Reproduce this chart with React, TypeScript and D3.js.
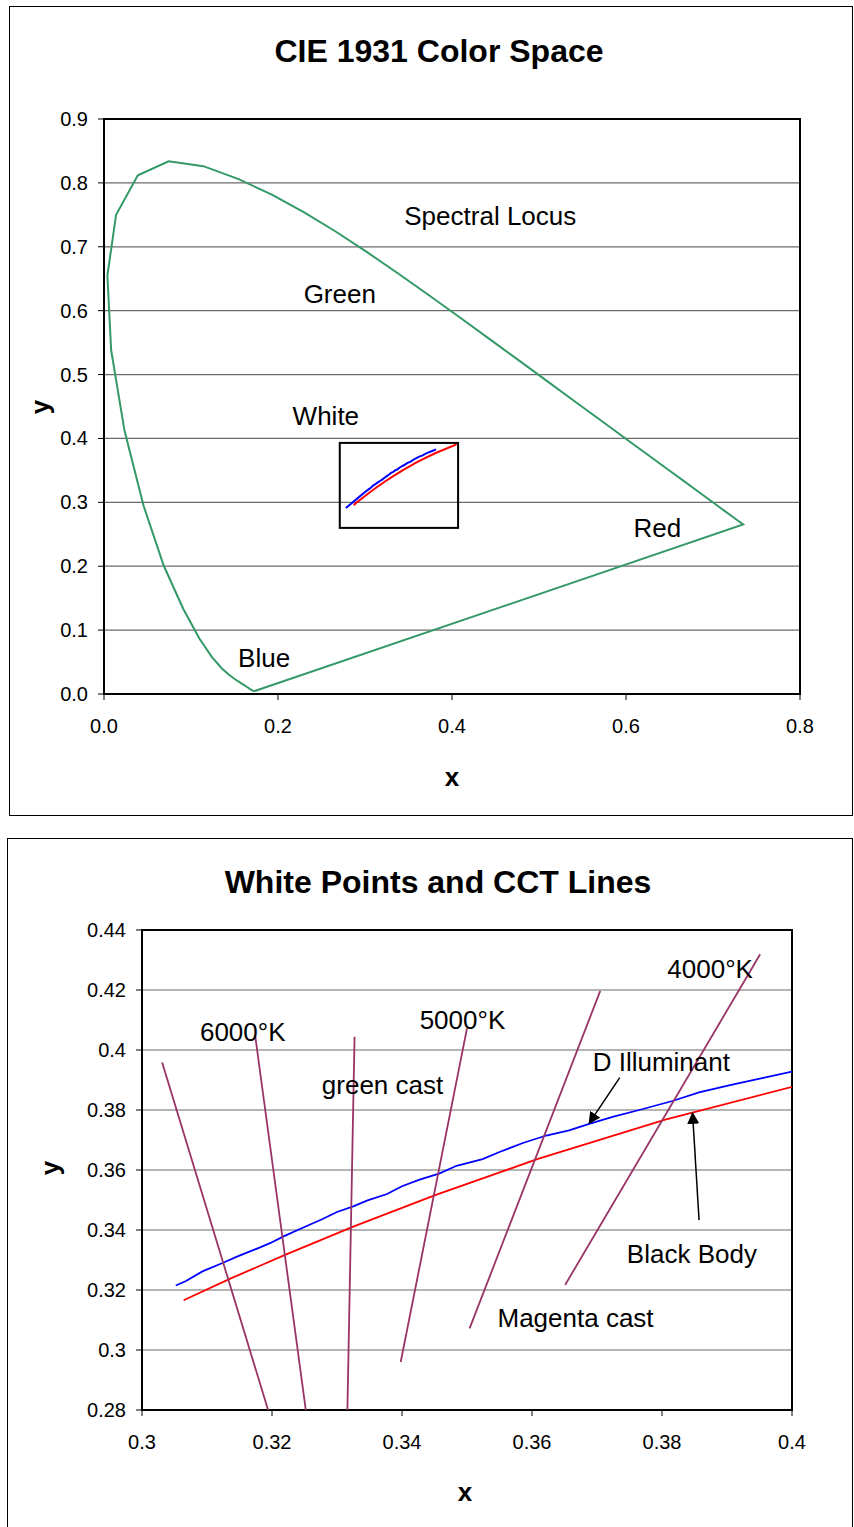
import React from "react";
import * as d3 from "d3";

// CIE 1931 spectral locus (380nm .. 700nm)
const locusX = [0.1741, 0.1738, 0.1733, 0.1726, 0.1714, 0.1689, 0.1644, 0.1611, 0.1566, 0.1510, 0.1440, 0.1355, 0.1241, 0.1096, 0.0913, 0.0687, 0.0454, 0.0235, 0.0082, 0.0039, 0.0139, 0.0389, 0.0743, 0.1142, 0.1547, 0.1929, 0.2296, 0.2658, 0.3016, 0.3373, 0.3731, 0.4087, 0.4441, 0.4788, 0.5125, 0.5448, 0.5752, 0.6029, 0.6270, 0.6482, 0.6658, 0.6801, 0.6915, 0.7006, 0.7079, 0.7140, 0.7190, 0.7230, 0.7260, 0.7300, 0.7347];
const locusY = [0.0050, 0.0049, 0.0048, 0.0048, 0.0051, 0.0069, 0.0109, 0.0138, 0.0177, 0.0227, 0.0297, 0.0399, 0.0578, 0.0868, 0.1327, 0.2007, 0.2950, 0.4127, 0.5384, 0.6548, 0.7502, 0.8120, 0.8338, 0.8262, 0.8059, 0.7816, 0.7543, 0.7243, 0.6923, 0.6589, 0.6245, 0.5896, 0.5547, 0.5202, 0.4866, 0.4544, 0.4242, 0.3965, 0.3725, 0.3514, 0.3340, 0.3197, 0.3083, 0.2993, 0.2920, 0.2859, 0.2809, 0.2770, 0.2740, 0.2700, 0.2653];

// D illuminant (daylight) locus
const dIllumX = [0.2780, 0.2850, 0.2920, 0.2990, 0.3052, 0.3067, 0.3093, 0.3124, 0.3147, 0.3177, 0.3197, 0.3217, 0.3250, 0.3277, 0.3300, 0.3324, 0.3347, 0.3377, 0.3400, 0.3427, 0.3457, 0.3484, 0.3524, 0.3550, 0.3586, 0.3622, 0.3657, 0.3688, 0.3724, 0.3765, 0.3816, 0.3857, 0.3903, 0.3954, 0.4000, 0.4030];
const dIllumY = [0.2910, 0.2990, 0.3070, 0.3150, 0.3215, 0.3229, 0.3262, 0.3290, 0.3312, 0.3338, 0.3356, 0.3378, 0.3410, 0.3436, 0.3460, 0.3478, 0.3499, 0.3520, 0.3546, 0.3568, 0.3588, 0.3614, 0.3636, 0.3660, 0.3690, 0.3715, 0.3732, 0.3754, 0.3777, 0.3800, 0.3830, 0.3859, 0.3882, 0.3906, 0.3928, 0.3940];

// black body (Planckian) locus, 9000K .. 3500K
const bbKelvin = [9000, 8500, 8000, 7500, 7000, 6500, 6000, 5500, 5000, 4500, 4000, 3500];
const bbX = [0.2869, 0.2908, 0.2952, 0.3004, 0.3064, 0.3135, 0.3221, 0.3325, 0.3451, 0.3608, 0.3805, 0.4053];
const bbY = [0.2956, 0.3000, 0.3048, 0.3103, 0.3166, 0.3237, 0.3318, 0.3411, 0.3516, 0.3636, 0.3768, 0.3907];

// iso-CCT lines: [x1, y1, x2, y2]
const cctLines = [
  [0.3031, 0.3958, 0.3194, 0.28],
  [0.3174, 0.4050, 0.3252, 0.28],
  [0.3327, 0.4044, 0.3316, 0.28],
  [0.3500, 0.4072, 0.3398, 0.2960],
  [0.3705, 0.4197, 0.3504, 0.3072],
  [0.3951, 0.4319, 0.3651, 0.3217],
];

// zoom window drawn on the top chart
const whiteBox = [0.271, 0.26, 0.407, 0.393];

const topTicksX = [0, 0.2, 0.4, 0.6, 0.8];
const topTicksY = [0, 0.1, 0.2, 0.3, 0.4, 0.5, 0.6, 0.7, 0.8, 0.9];
const botTicksX = [0.3, 0.32, 0.34, 0.36, 0.38, 0.4];
const botTicksY = [0.28, 0.3, 0.32, 0.34, 0.36, 0.38, 0.4, 0.42, 0.44];

const topLabels = [
  { text: "Spectral Locus", x: 0.444, y: 0.748 },
  { text: "Green", x: 0.271, y: 0.626 },
  { text: "White", x: 0.255, y: 0.435 },
  { text: "Red", x: 0.636, y: 0.26 },
  { text: "Blue", x: 0.184, y: 0.056 },
];
const botLabels = [
  { text: "6000°K", x: 0.3155, y: 0.406 },
  { text: "green cast", x: 0.337, y: 0.3883 },
  { text: "5000°K", x: 0.3493, y: 0.41 },
  { text: "4000°K", x: 0.3874, y: 0.427 },
  { text: "D Illuminant", x: 0.3799, y: 0.396 },
  { text: "Black Body", x: 0.3846, y: 0.332 },
  { text: "Magenta cast", x: 0.3667, y: 0.3107 },
];
const arrows = [
  [0.3735, 0.3908, 0.3688, 0.3756],
  [0.3857, 0.3433, 0.3847, 0.379],
];

const FONT = "'Liberation Sans', Arial, Helvetica, sans-serif";
const GREEN = "#339966";
const PLUM = "#993366";
const GRID = "#6b6b6b";

type Pt = [number, number];
const zip = (xs: number[], ys: number[]): Pt[] => xs.map((x, i) => [x, ys[i]]);

function Axes({ x, y, ticksX, ticksY, fmt }: any) {
  const [x0, x1] = x.range();
  const [y0, y1] = y.range(); // y0 bottom, y1 top
  return (
    <g>
      {ticksY.map((t: number) => (
        <g key={"gy" + t}>
          <line x1={x0} x2={x1} y1={y(t)} y2={y(t)} stroke={GRID} strokeWidth={1.2} />
          <line x1={x0 - 6} x2={x0} y1={y(t)} y2={y(t)} stroke="#000" strokeWidth={1} />
          <text x={x0 - 16} y={y(t)} textAnchor="end" dominantBaseline="central" fontSize={20}>
            {fmt(t)}
          </text>
        </g>
      ))}
      {ticksX.map((t: number) => (
        <g key={"gx" + t}>
          <line x1={x(t)} x2={x(t)} y1={y0} y2={y0 + 6} stroke="#000" strokeWidth={1} />
          <text x={x(t)} y={y0 + 32} textAnchor="middle" dominantBaseline="central" fontSize={20}>
            {fmt(t)}
          </text>
        </g>
      ))}
      <rect x={x0} y={y1} width={x1 - x0} height={y0 - y1} fill="none" stroke="#000" strokeWidth={2} />
    </g>
  );
}

export default function App() {
  const xT = d3.scaleLinear().domain([0, 0.8]).range([104, 800]);
  const yT = d3.scaleLinear().domain([0, 0.9]).range([694, 119]);
  const xB = d3.scaleLinear().domain([0.3, 0.4]).range([142, 792]);
  const yB = d3.scaleLinear().domain([0.28, 0.44]).range([1410, 930]);

  const lineT = d3.line<Pt>().x((d) => xT(d[0])).y((d) => yT(d[1]));
  const lineB = d3.line<Pt>().x((d) => xB(d[0])).y((d) => yB(d[1]));

  const locus = zip(locusX, locusY);
  const dIllum = zip(dIllumX, dIllumY);
  const blackBody = zip(bbX, bbY);

  const fmt1 = (v: number) => d3.format(".1f")(v);
  const fmt2 = (v: number) => String(+v.toFixed(2));

  return (
    <svg
      width={854}
      height={1527}
      style={{ position: "absolute", left: 0, top: 0, fontFamily: FONT }}
    >
      <defs>
        <clipPath id="clipB">
          <rect x={142} y={930} width={650} height={480} />
        </clipPath>
        <marker id="arrow" viewBox="0 0 10 10" refX={9} refY={5} markerWidth={12} markerHeight={12} orient="auto" markerUnits="userSpaceOnUse">
          <path d="M0,0 L10,5 L0,10 z" fill="#000" />
        </marker>
      </defs>
      <rect x={0} y={0} width={854} height={1527} fill="#fff" />

      {/* ---- top chart ---- */}
      <rect x={9.5} y={6.5} width={843} height={809} fill="none" stroke="#000" strokeWidth={1} />
      <text x={439} y={51} textAnchor="middle" dominantBaseline="central" fontSize={32} fontWeight="bold">
        CIE 1931 Color Space
      </text>
      <Axes x={xT} y={yT} ticksX={topTicksX} ticksY={topTicksY} fmt={fmt1} />
      <path d={lineT([...locus, locus[0]]) || ""} fill="none" stroke={GREEN} strokeWidth={2} />
      <rect
        x={xT(whiteBox[0])}
        y={yT(whiteBox[3])}
        width={xT(whiteBox[2]) - xT(whiteBox[0])}
        height={yT(whiteBox[1]) - yT(whiteBox[3])}
        fill="none"
        stroke="#000"
        strokeWidth={2}
      />
      <path d={lineT(blackBody) || ""} fill="none" stroke="#ff0000" strokeWidth={2} />
      <path d={lineT(dIllum.filter((d) => d[0] <= 0.385)) || ""} fill="none" stroke="#0000ff" strokeWidth={2} />
      {topLabels.map((l) => (
        <text key={l.text} x={xT(l.x)} y={yT(l.y)} textAnchor="middle" dominantBaseline="central" fontSize={26}>
          {l.text}
        </text>
      ))}
      <text x={40} y={407} transform="rotate(-90 40 407)" textAnchor="middle" dominantBaseline="central" fontSize={26} fontWeight="bold">
        y
      </text>
      <text x={452} y={777} textAnchor="middle" dominantBaseline="central" fontSize={26} fontWeight="bold">
        x
      </text>

      {/* ---- bottom chart ---- */}
      <rect x={7.5} y={838.5} width={845} height={700} fill="none" stroke="#000" strokeWidth={1} />
      <text x={438} y={882} textAnchor="middle" dominantBaseline="central" fontSize={32} fontWeight="bold">
        White Points and CCT Lines
      </text>
      <Axes x={xB} y={yB} ticksX={botTicksX} ticksY={botTicksY} fmt={fmt2} />
      <g clipPath="url(#clipB)">
        <path d={lineB(dIllum.filter((d) => d[0] >= 0.305)) || ""} fill="none" stroke="#0000ff" strokeWidth={1.8} />
        <path d={lineB(blackBody.filter((_, i) => bbKelvin[i] <= 7000)) || ""} fill="none" stroke="#ff0000" strokeWidth={1.8} />
        {cctLines.map((c, i) => (
          <line key={i} x1={xB(c[0])} y1={yB(c[1])} x2={xB(c[2])} y2={yB(c[3])} stroke={PLUM} strokeWidth={1.8} />
        ))}
      </g>
      {botLabels.map((l) => (
        <text key={l.text} x={xB(l.x)} y={yB(l.y)} textAnchor="middle" dominantBaseline="central" fontSize={26}>
          {l.text}
        </text>
      ))}
      {arrows.map((a, i) => (
        <line key={i} x1={xB(a[0])} y1={yB(a[1])} x2={xB(a[2])} y2={yB(a[3])} stroke="#000" strokeWidth={1.5} markerEnd="url(#arrow)" />
      ))}
      <text x={50} y={1168} transform="rotate(-90 50 1168)" textAnchor="middle" dominantBaseline="central" fontSize={26} fontWeight="bold">
        y
      </text>
      <text x={465} y={1492} textAnchor="middle" dominantBaseline="central" fontSize={26} fontWeight="bold">
        x
      </text>
    </svg>
  );
}
